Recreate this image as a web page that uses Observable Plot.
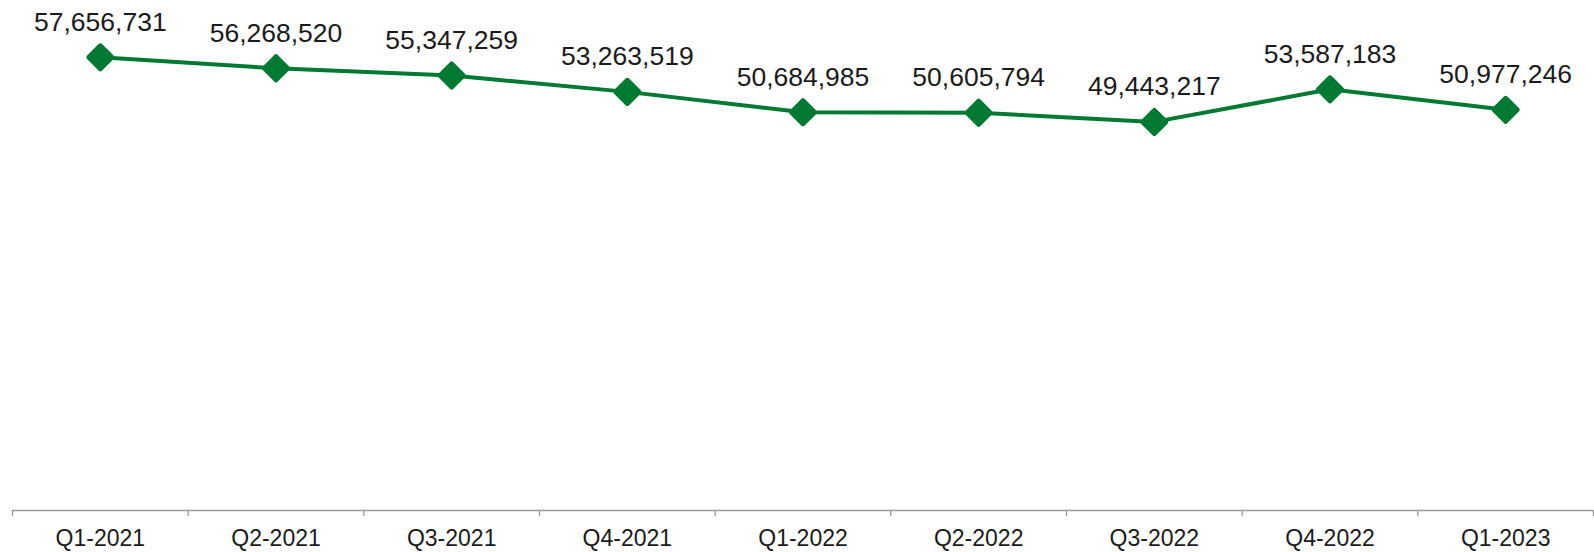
<!DOCTYPE html>
<html>
<head>
<meta charset="utf-8">
<script src="https://cdn.jsdelivr.net/npm/d3@7"></script>
<script src="https://cdn.jsdelivr.net/npm/@observablehq/plot@0.6"></script>
<style>
  html, body { margin: 0; padding: 0; background: #fff; }
  #chart svg { display: block; }
</style>
</head>
<body>
<div id="chart"></div>
<script>
const categories = ["Q1-2021","Q2-2021","Q3-2021","Q4-2021","Q1-2022","Q2-2022","Q3-2022","Q4-2022","Q1-2023"];
const values = [57656731, 56268520, 55347259, 53263519, 50684985, 50605794, 49443217, 53587183, 50977246];

const data = categories.map((c, i) => ({i, category: c, value: values[i]}));
const centers = categories.map((_, i) => i);
const boundaries = d3.range(categories.length + 1).map(i => i - 0.5);

const green = "#007a33";
const fontFamily = "'Liberation Sans', Arial, sans-serif";

// rounded diamond symbol
const diamond = {
  draw(ctx, size) {
    const r = Math.sqrt(size / Math.PI);
    ctx.moveTo(0, -r);
    ctx.lineTo(r, 0);
    ctx.lineTo(0, r);
    ctx.lineTo(-r, 0);
    ctx.closePath();
  }
};

const chart = Plot.plot({
  width: 1594,
  height: 552,
  marginLeft: 12,
  marginRight: 1,
  marginTop: 7,
  marginBottom: 42,
  style: {fontFamily, background: "#fff"},
  x: {domain: [-0.5, categories.length - 0.5], axis: null, label: null},
  y: {domain: [0, 64e6], axis: null, label: null},
  marks: [
    Plot.ruleY([0], {stroke: "#9a9a9a", strokeWidth: 1.3}),
    Plot.axisX({ticks: boundaries, tickSize: 6, tickFormat: () => "", label: null, stroke: "#9a9a9a", strokeWidth: 1.3, strokeOpacity: 1}),
    Plot.axisX({ticks: centers, tickSize: 0, tickPadding: 19, label: null, tickFormat: i => categories[i], fontSize: 23, fill: "#1a1a1a"}),
    Plot.line(data, {x: "i", y: "value", stroke: green, strokeWidth: 4}),
    Plot.dot(data, {x: "i", y: "value", symbol: diamond, r: 11.5, fill: green, stroke: green, strokeWidth: 5, strokeLinejoin: "round"}),
    Plot.text(data, {x: "i", y: "value", text: d => d3.format(",")(d.value), lineAnchor: "bottom", dy: -26.5, fontSize: 26.5, fill: "#1a1a1a"})
  ]
});
document.getElementById("chart").append(chart);
</script>
</body>
</html>
